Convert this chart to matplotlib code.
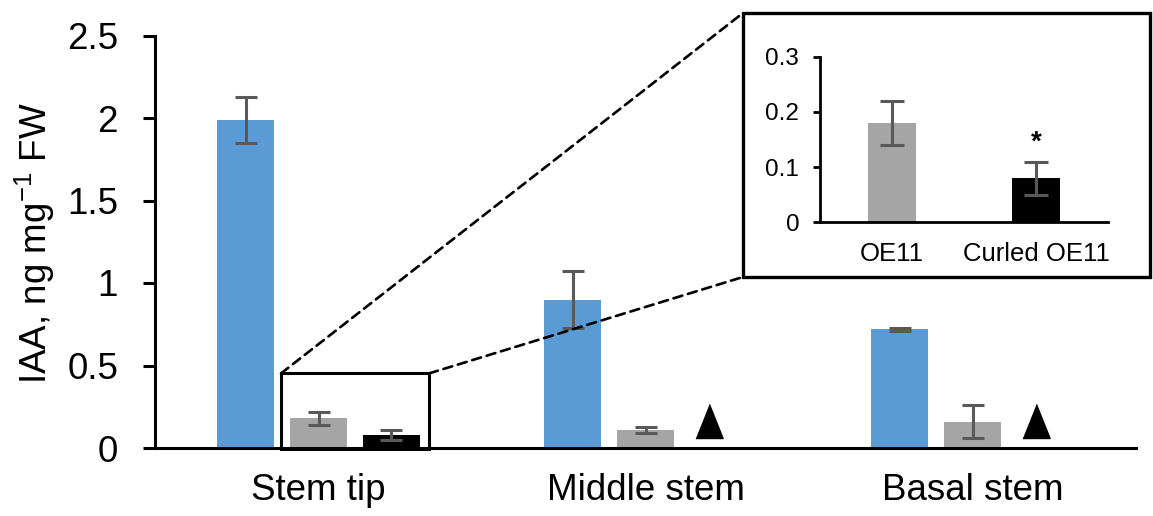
import numpy as np
import matplotlib
matplotlib.use("Agg")
import matplotlib.pyplot as plt
from matplotlib.patches import Rectangle, ConnectionPatch

plt.rcParams['font.family'] = ['Liberation Sans', 'DejaVu Sans']
plt.rcParams['mathtext.fontset'] = 'custom'
plt.rcParams['mathtext.rm'] = 'Liberation Sans'
plt.rcParams['mathtext.it'] = 'Liberation Sans:italic'

# ---- data ----
categories = ['Stem tip', 'Middle stem', 'Basal stem']
wt_vals = [1.99, 0.90, 0.72]
wt_err = [0.14, 0.17, 0.01]
oe11_vals = [0.18, 0.11, 0.16]
oe11_err = [0.04, 0.02, 0.10]
curled_vals = [0.08, np.nan, np.nan]
curled_err = [0.03, np.nan, np.nan]
no_sample = [False, True, True]  # triangle = no curled sample
y_ticks = [0, 0.5, 1, 1.5, 2, 2.5]
y_ticklabels = ['0', '0.5', '1', '1.5', '2', '2.5']

inset_labels = ['OE11', 'Curled OE11']
inset_vals = [0.18, 0.08]
inset_err = [0.04, 0.03]
inset_sig = [False, True]
inset_ticks = [0, 0.1, 0.2, 0.3]
inset_ticklabels = ['0', '0.1', '0.2', '0.3']

BLUE = '#5B9BD5'
GRAY = '#A5A5A5'
BLACK = '#000000'
ERR = '#595959'

W, H = 1153, 516
fig = plt.figure(figsize=(W / 100, H / 100), dpi=100)

# ---- main axes ----
ax = fig.add_axes([155 / W, 1 - 448 / H, (1136 - 155) / W, (448 - 35.5) / H])
x = np.arange(len(categories))
off = 0.223
bw = 0.174
ax.bar(x - off, wt_vals, bw, color=BLUE, zorder=2)
ax.bar(x, oe11_vals, bw, color=GRAY, zorder=2)
ax.bar(x + off, curled_vals, bw, color=BLACK, zorder=2)
ekw = dict(fmt='none', ecolor=ERR, elinewidth=2.2, capsize=8, capthick=2.2, zorder=3)
ax.errorbar(x - off, wt_vals, yerr=wt_err, **ekw)
ax.errorbar(x, oe11_vals, yerr=oe11_err, **ekw)
ax.errorbar(x + off, curled_vals, yerr=curled_err, **ekw)

tri_x = [xi + off - 0.03 for xi, ns in zip(x, no_sample) if ns]
tri_y = [0.165 for ns in no_sample if ns]
ax.plot(tri_x, tri_y, linestyle='none', marker=[(-0.8, -1), (0.8, -1), (0, 1)],
        markersize=24.5, color='black', zorder=3)

ax.set_xlim(-0.5, 2.5)
ax.set_ylim(0, 2.5)
ax.set_yticks(y_ticks)
ax.set_yticklabels(y_ticklabels)
ax.set_xticks(x)
ax.set_xticklabels(categories)
ax.tick_params(axis='y', direction='out', length=8.6, width=2.2, pad=18, labelsize=26.5)
ax.tick_params(axis='x', length=0, pad=18, labelsize=26.5)
for s in ['top', 'right']:
    ax.spines[s].set_visible(False)
for s in ['left', 'bottom']:
    ax.spines[s].set_linewidth(2.2)

fig.text(34.5 / W, 1 - 243.5 / H, r'IAA, ng mg$^{\mathregular{-1}}$ FW', rotation=90,
         ha='center', va='center', fontsize=26.5)

# zoom rectangle around stem tip OE11 bars
zx0, zx1 = -0.1147, 0.338
zy0, zy1 = -0.006, 0.452
ax.add_patch(Rectangle((zx0, zy0), zx1 - zx0, zy1 - zy0, fill=False, edgecolor='black',
                       linewidth=2.2, clip_on=False, zorder=4))

# inset box in figure pixels
bx0, by0, bx1, by1 = 743, 13, 1150, 277
fbx0, fby0 = bx0 / W, 1 - by1 / H
fbx1, fby1 = bx1 / W, 1 - by0 / H
box = Rectangle((fbx0, fby0), fbx1 - fbx0, fby1 - fby0, transform=fig.transFigure,
                facecolor='white', edgecolor='black', linewidth=2.4, zorder=5)
fig.add_artist(box)

for (xa, ya), (xb, yb) in [((zx0, zy1), (fbx0, fby1)), ((zx1, zy1), (fbx0, fby0))]:
    cp = ConnectionPatch(xyA=(xa, ya), coordsA=ax.transData, xyB=(xb, yb),
                         coordsB=fig.transFigure, linestyle=(0, (3.5, 2.2)),
                         linewidth=1.9, color='black', zorder=4)
    fig.add_artist(cp)

# ---- inset axes ----
iax = fig.add_axes([820 / W, 1 - 222.3 / H, (1108 - 820) / W, 165.6 / H], zorder=6)
iax.set_facecolor('none')
ix = np.arange(len(inset_labels))
iax.bar(ix, inset_vals, 0.34, color=[GRAY, BLACK], zorder=2)
iax.errorbar(ix, inset_vals, yerr=inset_err, fmt='none', ecolor=ERR, elinewidth=2.2,
             capsize=8.3, capthick=2.2, zorder=3)
for xi, v, e, sig in zip(ix, inset_vals, inset_err, inset_sig):
    if sig:
        iax.text(xi, v + e + 0.01, '*', ha='center', va='bottom', fontsize=20,
                 fontweight='bold')
iax.set_xlim(-0.5, 1.5)
iax.set_ylim(0, 0.3)
iax.set_yticks(inset_ticks)
iax.set_yticklabels(inset_ticklabels)
iax.set_xticks(ix)
iax.set_xticklabels(inset_labels)
iax.tick_params(axis='y', direction='out', length=5, width=2, pad=10, labelsize=17.5)
iax.tick_params(axis='x', length=0, pad=14, labelsize=18.5)
for s in ['top', 'right']:
    iax.spines[s].set_visible(False)
for s in ['left', 'bottom']:
    iax.spines[s].set_linewidth(2)

fig.savefig('out.png', dpi=100)
